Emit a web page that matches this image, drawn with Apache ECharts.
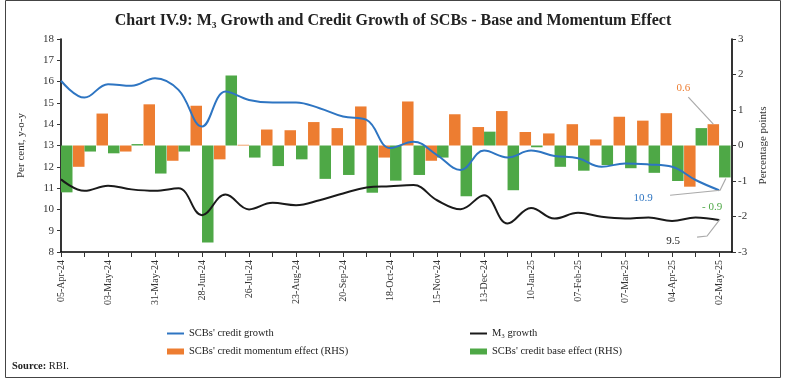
<!DOCTYPE html>
<html>
<head>
<meta charset="utf-8">
<script src="https://cdn.jsdelivr.net/npm/echarts@6/dist/echarts.min.js"></script>
<style>
html,body{margin:0;padding:0;background:#fff;}
#c{width:786px;height:384px;}
</style>
</head>
<body>
<div id="c"></div>
<script>
// ---- data ----
const dates = ['05-Apr-24','19-Apr-24','03-May-24','17-May-24','31-May-24','14-Jun-24','28-Jun-24','12-Jul-24','26-Jul-24','09-Aug-24','23-Aug-24','06-Sep-24','20-Sep-24','04-Oct-24','18-Oct-24','01-Nov-24','15-Nov-24','29-Nov-24','13-Dec-24','27-Dec-24','10-Jan-25','24-Jan-25','07-Feb-25','21-Feb-25','07-Mar-25','21-Mar-25','04-Apr-25','18-Apr-25','02-May-25'];
const creditGrowth = [16.04,15.25,15.88,15.80,16.16,15.61,13.89,15.53,15.14,15.02,15.02,14.75,14.36,14.20,12.88,13.18,12.55,11.85,12.76,12.44,12.76,12.51,12.40,12.00,12.16,12.11,12.00,11.38,10.9];
const m3Growth = [11.41,10.87,11.11,10.94,10.87,10.99,9.73,10.70,10.00,10.31,10.20,10.43,10.75,11.03,11.09,11.14,10.43,10.01,10.67,9.34,10.07,9.57,9.84,9.65,9.57,9.62,9.46,9.62,9.5];
const momentumEffect = [null,-0.60,0.90,-0.17,1.16,-0.43,1.12,-0.39,0.02,0.45,0.43,0.66,0.49,1.10,-0.34,1.24,-0.43,0.88,0.52,0.97,0.38,0.34,0.60,0.17,0.81,0.70,0.91,-1.16,0.6];
const baseEffect = [-1.32,-0.17,-0.22,0.04,-0.79,-0.17,-2.73,1.97,-0.34,-0.58,-0.39,-0.94,-0.83,-1.33,-0.99,-0.83,-0.34,-1.43,0.39,-1.26,-0.05,-0.60,-0.71,-0.55,-0.64,-0.77,-1.00,0.49,-0.9];
const leftTicks = [8,9,10,11,12,13,14,15,16,17,18];
const rightTicks = [-3,-2,-1,0,1,2,3];

const names = ["SCBs' credit growth","M\u2083 growth","SCBs' credit momentum effect (RHS)","SCBs' credit base effect (RHS)"];
const colors = {blue:'#2E75C2', black:'#1a1a1a', orange:'#ED7D31', green:'#4EA846'};
const FONT = '"Liberation Serif", "DejaVu Serif", serif';

const pairs = arr => arr.map((v,i)=>[i,v]);
const tickIdx = dates.map((d,i)=>i);
const labelIdx = dates.map((d,i)=>i).filter(i=>i%2===0);

const chart = echarts.init(document.getElementById('c'), null, {renderer:'canvas'});
const legendBase = {
  orient:'horizontal', itemWidth:17, itemGap:10,
  textStyle:{fontFamily:FONT, fontSize:10.5, color:'#222'}
};
const option = {
  animation:false,
  backgroundColor:'#fff',
  title:{
    text:'Chart IV.9: M\u2083 Growth and Credit Growth of SCBs - Base and Momentum Effect',
    left:'center', top:8,
    textStyle:{fontFamily:FONT, fontSize:16, fontWeight:'bold', color:'#222'}
  },
  legend:[
    Object.assign({}, legendBase, {left:162, top:323, itemHeight:2, data:[{name:names[0], icon:'rect'}]}),
    Object.assign({}, legendBase, {left:465, top:323, itemHeight:2, data:[{name:names[1], icon:'rect'}]}),
    Object.assign({}, legendBase, {left:162, top:341, itemHeight:6, data:[{name:names[2], icon:'rect'}]}),
    Object.assign({}, legendBase, {left:465, top:341, itemHeight:6, data:[{name:names[3], icon:'rect'}]})
  ],
  grid:{left:61, right:54, top:39, bottom:132, containLabel:false},
  xAxis:{
    type:'value', min:0, max:28.55, interval:1,
    splitLine:{show:false},
    axisLine:{onZero:false, lineStyle:{color:'#000', width:1.6}},
    axisTick:{show:true, length:5, lineStyle:{color:'#333'}, customValues:tickIdx},
    axisLabel:{rotate:90, margin:8, fontFamily:FONT, fontSize:10, color:'#333',
      customValues:labelIdx, formatter:v=>dates[Math.round(v)]}
  },
  yAxis:[
    {type:'value', min:8, max:18, interval:1, position:'left',
     name:'Per cent, y-o-y', nameLocation:'middle', nameGap:34, nameRotate:90,
     nameTextStyle:{fontFamily:FONT, fontSize:11, color:'#333'},
     splitLine:{show:false},
     axisLine:{show:true, lineStyle:{color:'#000', width:1.6}},
     axisTick:{show:true, length:4, lineStyle:{color:'#333'}},
     axisLabel:{margin:7, fontFamily:FONT, fontSize:11, color:'#333'}},
    {type:'value', min:-3, max:3, interval:1, position:'right',
     name:'Percentage points', nameLocation:'middle', nameGap:26, nameRotate:90,
     nameTextStyle:{fontFamily:FONT, fontSize:11, color:'#333'},
     splitLine:{show:false},
     axisLine:{show:true, lineStyle:{color:'#000', width:1.6}},
     axisTick:{show:true, length:4, lineStyle:{color:'#333'}},
     axisLabel:{margin:6, fontFamily:FONT, fontSize:11, color:'#333'}}
  ],
  series:[
    {name:names[2], type:'bar', xAxisIndex:0, yAxisIndex:1, data:pairs(momentumEffect),
     barWidth:11.5, barGap:'0%', itemStyle:{color:colors.orange}, clip:false, z:2},
    {name:names[3], type:'bar', xAxisIndex:0, yAxisIndex:1, data:pairs(baseEffect),
     barWidth:11.5, barGap:'0%', itemStyle:{color:colors.green}, clip:false, z:2},
    {name:names[0], type:'line', xAxisIndex:0, yAxisIndex:0, data:pairs(creditGrowth),
     smooth:0.4, symbol:'none', lineStyle:{color:colors.blue, width:2}, itemStyle:{color:colors.blue}, z:3},
    {name:names[1], type:'line', xAxisIndex:0, yAxisIndex:0, data:pairs(m3Growth),
     smooth:0.4, symbol:'none', lineStyle:{color:colors.black, width:2}, itemStyle:{color:colors.black}, z:3}
  ]
};
chart.setOption(option);

// ---- annotations anchored to data points ----
const last = dates.length-1;
const pL = v => chart.convertToPixel({xAxisIndex:0, yAxisIndex:0}, [last, v]);
const pR = v => chart.convertToPixel({xAxisIndex:0, yAxisIndex:1}, [last, v]);
const aMom = pR(momentumEffect[last]); aMom[0] -= 5.75;
const aBase = pR(baseEffect[last]); aBase[0] += 5.75;
const aCredit = pL(creditGrowth[last]);
const aM3 = pL(m3Growth[last]);
const gray = '#aaa';
const txt = (x,y,t,c)=>({type:'text', x:x, y:y, style:{text:t, fill:c, font:'11px '+FONT, textAlign:'center', textVerticalAlign:'middle'}, z:10});
const pl = pts=>({type:'polyline', shape:{points:pts}, style:{stroke:gray, lineWidth:1.2, fill:null}, z:9});
chart.setOption({
  graphic:[
    {type:'rect', shape:{x:5.5, y:0.5, width:775, height:377}, style:{fill:null, stroke:'#444', lineWidth:1}, z:0, silent:true},
    pl([[aMom[0], aMom[1]], [aMom[0]-25, aMom[1]-27]]),
    txt(aMom[0]-30, aMom[1]-36, momentumEffect[last].toFixed(1), colors.orange),
    pl([[aBase[0]+1, aBase[1]+1], [aCredit[0]+1, aCredit[1]], [aCredit[0]-49, aCredit[1]+5]]),
    txt(aCredit[0]-76, aCredit[1]+8, creditGrowth[last].toFixed(1), colors.blue),
    txt(aCredit[0]-7, aCredit[1]+17, '- ' + Math.abs(baseEffect[last]).toFixed(1), colors.green),
    pl([[aM3[0]+1, aM3[1]-1], [aM3[0]-12, aM3[1]+16], [aM3[0]-22, aM3[1]+17]]),
    txt(aM3[0]-46, aM3[1]+21, m3Growth[last].toFixed(1), colors.black),
    {type:'text', x:12, y:366, style:{text:'{b|Source:} RBI.', font:'10.5px '+FONT, fill:'#222', textVerticalAlign:'middle',
      rich:{b:{fontWeight:'bold', fontFamily:FONT, fontSize:10.5, fill:'#222'}}}, z:10}
  ]
});
</script>
</body>
</html>
